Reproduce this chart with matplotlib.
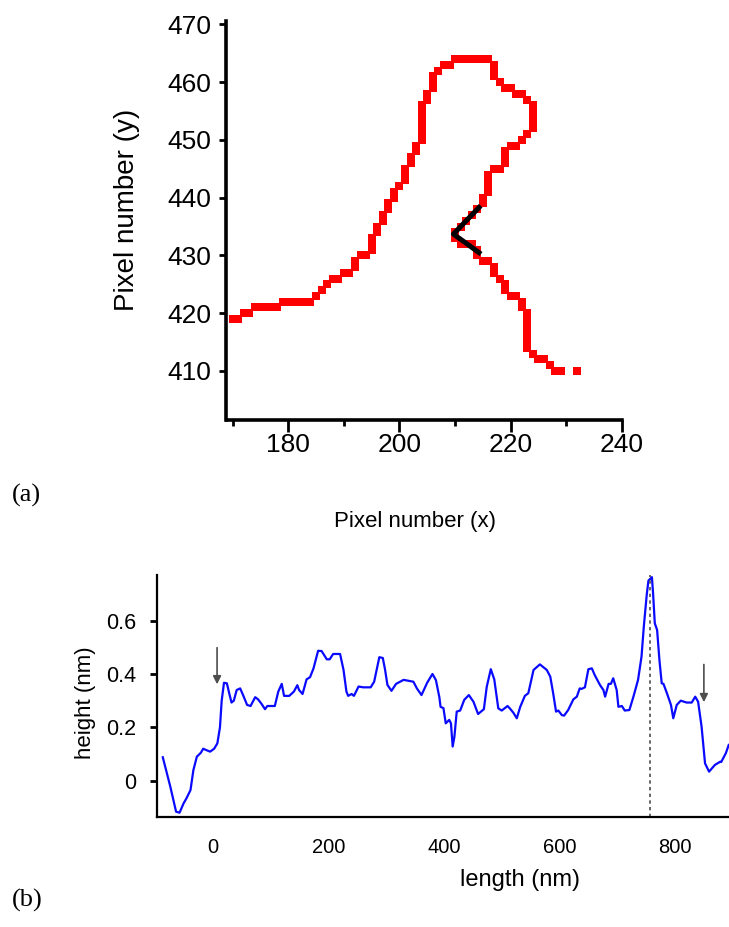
import numpy as np
import matplotlib.pyplot as plt

# ---- panel (a): contour pixels (x, y) ----
pix_x = [170, 171, 172, 173, 174, 175, 176, 177, 178,
         179, 180, 181, 182, 183, 184, 185, 186, 187, 188, 189,
         190, 191, 192, 192, 193, 194, 195, 195, 195, 196, 196,
         197, 197, 198, 198, 199, 199, 200, 201, 201, 201, 202, 202,
         203, 203, 204, 204, 204, 204, 204, 204, 204, 205, 205,
         206, 206, 206, 207, 208, 209,
         210, 211, 212, 213, 214, 215, 216,
         217, 217, 217, 218, 219, 220, 221, 222, 223,
         224, 224, 224, 224, 224, 223, 222, 220, 221,
         219, 219, 219, 217, 218, 216, 216, 216, 216,
         215, 215, 214, 213, 212, 211, 210, 210,
         211, 212, 213, 214, 214, 215, 216, 217, 217, 218, 219, 219,
         220, 221, 222, 222, 223, 223, 223, 223, 223, 223, 223,
         224, 225, 226, 227, 228, 229, 232]
pix_y = [419, 419, 420, 420, 421, 421, 421, 421, 421,
         422, 422, 422, 422, 422, 422, 423, 424, 425, 426, 426,
         427, 427, 428, 429, 430, 430, 431, 432, 433, 434, 435,
         436, 437, 438, 439, 440, 441, 442, 443, 444, 445, 446, 447,
         448, 449, 450, 451, 452, 453, 454, 455, 456, 457, 458,
         459, 460, 461, 462, 463, 463,
         464, 464, 464, 464, 464, 464, 464,
         461, 462, 463, 460, 459, 459, 458, 458, 457,
         452, 453, 454, 455, 456, 451, 450, 449, 449,
         446, 447, 448, 445, 445, 441, 442, 443, 444,
         439, 440, 438, 437, 436, 435, 433, 434,
         432, 432, 432, 431, 430, 429, 429, 427, 428, 426, 424, 425,
         423, 423, 421, 422, 414, 415, 416, 417, 418, 419, 420,
         413, 412, 412, 411, 410, 410, 410]

# black corner segment
corner_x = [214.3, 209.7, 214.3]
corner_y = [438.3, 433.7, 430.5]

# ---- panel (b): height profile ----
length_nm = [-87, -74, -64, -58, -51, -46, -39, -34, -28, -21, -17, -12, -5, 2,
             7.5, 12, 15, 19, 24, 28, 32, 36, 41, 47, 52, 59, 65, 73, 78, 84,
             90, 94, 107, 113, 119, 123, 132, 140, 146, 149, 155, 162, 168,
             174, 182, 188, 197, 202, 208, 220, 226, 231, 234, 240, 244, 252,
             260, 273, 279, 288, 294, 298, 302, 309, 317, 330, 347, 353, 361,
             371, 380, 386, 392, 394, 399, 403, 409, 412, 415, 418, 422, 428,
             435, 443, 451, 459, 469, 474, 481, 487, 494, 500, 510, 514, 520,
             526, 532, 540, 546, 555, 566, 578, 584, 589, 594, 598, 604, 608,
             615, 624, 630, 635, 638, 644, 650, 656, 661, 670, 676, 679, 685,
             689, 693, 699, 702, 708, 713, 721, 728, 736, 742, 746, 751, 754,
             760, 762, 765, 769, 773, 777, 780, 786, 793, 797, 803, 810, 820,
             829, 835, 840, 846, 852, 859, 869, 878, 880, 888, 893]
height_nm = [0.088, -0.022, -0.116, -0.12, -0.085, -0.066, -0.035, 0.040,
             0.09, 0.105, 0.12, 0.115, 0.109, 0.12, 0.14, 0.2, 0.30, 0.367,
             0.365, 0.328, 0.293, 0.30, 0.34, 0.346, 0.321, 0.284, 0.28,
             0.313, 0.305, 0.288, 0.268, 0.28, 0.28, 0.334, 0.363, 0.318,
             0.318, 0.334, 0.358, 0.34, 0.325, 0.38, 0.388, 0.421, 0.487,
             0.486, 0.455, 0.455, 0.475, 0.475, 0.415, 0.334, 0.318, 0.325,
             0.318, 0.353, 0.35, 0.35, 0.371, 0.463, 0.46, 0.415, 0.359,
             0.337, 0.363, 0.378, 0.371, 0.346, 0.321, 0.368, 0.40, 0.377,
             0.312, 0.277, 0.272, 0.215, 0.228, 0.215, 0.128, 0.165, 0.259,
             0.263, 0.303, 0.321, 0.296, 0.25, 0.268, 0.352, 0.418, 0.38,
             0.271, 0.263, 0.28, 0.271, 0.255, 0.234, 0.277, 0.318, 0.328,
             0.415, 0.436, 0.415, 0.39, 0.328, 0.259, 0.263, 0.246, 0.244,
             0.265, 0.305, 0.315, 0.346, 0.344, 0.35, 0.418, 0.421, 0.396,
             0.359, 0.34, 0.315, 0.363, 0.363, 0.384, 0.34, 0.277, 0.28,
             0.263, 0.265, 0.315, 0.378, 0.465, 0.578, 0.696, 0.75, 0.763,
             0.703, 0.59, 0.565, 0.453, 0.365, 0.363, 0.328, 0.284, 0.234,
             0.284, 0.30, 0.293, 0.293, 0.315, 0.296, 0.203, 0.065, 0.034,
             0.059, 0.071, 0.07, 0.103, 0.134]

peak_nm = 757
arrow_x = [7, 850]
arrow_tail = [0.509, 0.446]
arrow_tip = [0.351, 0.284]

W, H = 729, 927
fig = plt.figure(figsize=(W / 100, H / 100), dpi=100)
sans = ['Liberation Sans', 'DejaVu Sans']
serif = ['Liberation Serif', 'DejaVu Serif']

# top panel
ax1 = fig.add_axes([226.5 / W, 1 - 420 / H, (621.9 - 226.5) / W, (420 - 21) / H])
ax1.plot(pix_x, pix_y, 's', color='red', ms=5.2, mew=0)
ax1.plot(corner_x, corner_y, color='black', lw=3.6)
ax1.set_xlim(168.9, 240)
ax1.set_ylim(401.5, 470.6)
ax1.set_xticks([180, 200, 220, 240])
ax1.set_xticks([170, 190, 210, 230], minor=True)
ax1.set_yticks([410, 420, 430, 440, 450, 460, 470])
for s in ['top', 'right']:
    ax1.spines[s].set_visible(False)
for s in ['left', 'bottom']:
    ax1.spines[s].set_linewidth(2.6)
ax1.tick_params(axis='x', which='major', length=8.5, width=2, pad=1)
ax1.tick_params(axis='x', which='minor', length=4.5, width=2)
ax1.tick_params(axis='y', length=5, width=2, pad=6)
for lab in ax1.get_xticklabels() + ax1.get_yticklabels():
    lab.set_family(sans)
    lab.set_fontsize(19)

fig.text(415 / W, 1 - 521 / H, 'Pixel number (x)', ha='center', va='center',
         fontsize=16, family=sans)
fig.text(127 / W, 1 - 210 / H, 'Pixel number (y)', ha='center', va='center',
         rotation=90, fontsize=20, family=sans)
fig.text(12 / W, 1 - 495 / H, '(a)', ha='left', va='center', fontsize=19,
         family=serif)

# bottom panel
ax2 = fig.add_axes([157.3 / W, 1 - 817 / H, (729 - 157.3) / W, (817 - 575) / H])
ax2.plot(length_nm, height_nm, color='#0a0aff', lw=1.6)
ax2.axvline(peak_nm, color='0.3', lw=1.2, ls=(0, (2, 2)))
for xa, t0, t1 in zip(arrow_x, arrow_tail, arrow_tip):
    ax2.annotate('', xy=(xa, t1), xytext=(xa, t0),
                 arrowprops=dict(arrowstyle='-|>', color='0.3', lw=1.2,
                                 mutation_scale=12))
ax2.set_xlim(-96.5, 893.5)
ax2.set_ylim(-0.136, 0.771)
ax2.set_xticks([0, 200, 400, 600, 800])
ax2.set_yticks([0, 0.2, 0.4, 0.6])
ax2.set_yticklabels(['0', '0.2', '0.4', '0.6'])
for s in ['top', 'right']:
    ax2.spines[s].set_visible(False)
for s in ['left', 'bottom']:
    ax2.spines[s].set_linewidth(1.6)
ax2.tick_params(axis='x', length=0, pad=15)
ax2.tick_params(axis='y', length=5, width=2, pad=10)
for lab in ax2.get_xticklabels():
    lab.set_family(sans)
    lab.set_fontsize(14.5)
for lab in ax2.get_yticklabels():
    lab.set_family(sans)
    lab.set_fontsize(15.5)

fig.text(85 / W, 1 - 703 / H, 'height (nm)', ha='center', va='center',
         rotation=90, fontsize=16, family=sans)
fig.text(520 / W, 1 - 880 / H, 'length (nm)', ha='center', va='center',
         fontsize=17, family=sans)
fig.text(12 / W, 1 - 900 / H, '(b)', ha='left', va='center', fontsize=19,
         family=serif)

fig.savefig('out.png', dpi=100)
